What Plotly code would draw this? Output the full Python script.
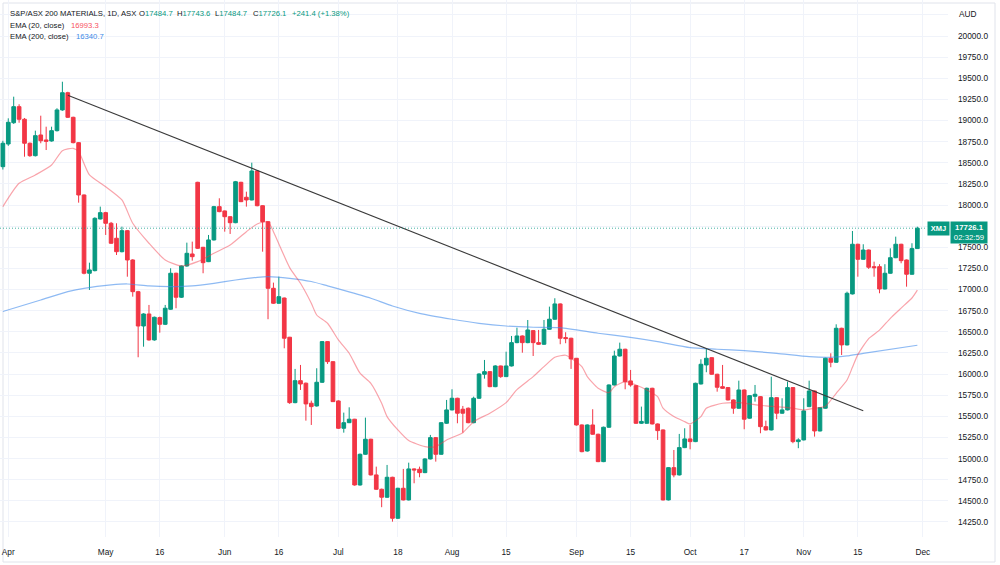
import pandas as pd
import plotly.graph_objects as go

# ---------------- data ----------------
holidays = ["2022-04-15", "2022-04-18", "2022-04-25", "2022-06-13", "2022-09-22"]
trade_days = pd.bdate_range("2022-03-31", "2022-11-30", freq="C", holidays=holidays)
dates = [d.strftime("%Y-%m-%d") for d in trade_days]
future_days = ["2022-12-01", "2022-12-02", "2022-12-05", "2022-12-06", "2022-12-07", "2022-12-08"]

open_ = [18454, 18722, 18974, 19164, 19015, 18731, 18584, 18829, 18770, 18758,
         18880, 19125, 19329, 19038, 18738, 18119, 17193, 17224, 17835, 17910,
         17784, 17607, 17448, 17697, 17350, 16975, 16569, 16711, 16404, 16668,
         16589, 16767, 17193, 16909, 17279, 17421, 18269, 17500, 17330, 17587,
         17981, 17930, 17862, 17791, 18269, 18092, 18060, 18403, 17992, 17803,
         17015, 16838, 16900, 16436, 15662, 15922, 15892, 15655, 15623, 15903,
         16384, 16147, 15682, 15359, 15425, 15466, 14688, 15051, 15229, 14807,
         14637, 14543, 14779, 14294, 14649, 14511, 14878, 14874, 14834, 14996,
         15248, 15051, 15418, 15576, 15714, 15584, 15596, 15425, 15714, 15998,
         16029, 15851, 16096, 15970, 16096, 16372, 16451, 16372, 16514, 16372,
         16353, 16530, 16649, 16830, 16432, 16424, 16187, 15398, 15090, 15398,
         15288, 14964, 15371, 15871, 16214, 16294, 15919, 15863, 15418, 15418,
         15832, 15410, 15339, 14511, 14893, 14807, 15130, 15233, 15201, 15883,
         16108, 16194, 15998, 15851, 15840, 15694, 15596, 15812, 15478, 15737,
         15733, 15378, 15339, 15721, 15537, 15576, 15840, 15201, 15221, 15615,
         15800, 15327, 15596, 16187, 16140, 16542, 16345, 16948, 17536, 17358,
         17468, 17271, 17271, 17007, 17193, 17377, 17536, 17350, 17181, 17484.7]
high_ = [18760, 19026, 19282, 19192, 19030, 18740, 18880, 19057, 18927, 18927,
         19145, 19459, 19340, 19045, 18745, 18125, 17318, 17855, 17981, 17920,
         17800, 17784, 17744, 17705, 17360, 16985, 16720, 16818, 16680, 16680,
         16818, 17252, 17200, 17285, 17555, 17567, 18275, 17505, 17646, 17990,
         18080, 17935, 17868, 18285, 18275, 18158, 18501, 18410, 17998, 17808,
         17082, 17153, 16905, 16440, 16061, 16108, 15900, 15686, 16069, 16390,
         16390, 16150, 15690, 15544, 15607, 15470, 15060, 15485, 15235, 14905,
         14645, 14925, 14785, 14655, 14878, 14952, 14885, 14905, 15005, 15280,
         15255, 15432, 15694, 15820, 15720, 15623, 15605, 15733, 16010, 16167,
         16035, 16105, 16100, 16265, 16451, 16549, 16458, 16640, 16520, 16522,
         16640, 16798, 16897, 16836, 16495, 16430, 16190, 15405, 15405, 15584,
         15295, 15378, 15878, 16277, 16372, 16300, 16049, 15870, 15615, 15840,
         15838, 15416, 15345, 14900, 15102, 15292, 15359, 15398, 15898, 16175,
         16305, 16200, 16004, 16108, 15846, 15700, 15922, 15818, 15752, 15871,
         15740, 15449, 15969, 15727, 15714, 15911, 15846, 15240, 15714, 15922,
         15806, 15610, 16194, 16246, 16589, 16548, 16975, 17693, 17542, 17536,
         17474, 17330, 17300, 17300, 17488, 17626, 17542, 17356, 17548, 17743.6]
low_ = [18420, 18700, 18960, 18974, 18572, 18570, 18575, 18731, 18651, 18750,
        18870, 19115, 19030, 18730, 18028, 17180, 16995, 17215, 17830, 17646,
        17540, 17409, 17440, 17152, 16916, 16199, 16324, 16395, 16395, 16490,
        16580, 16760, 16779, 16900, 17270, 17342, 17480, 17193, 17325, 17580,
        17915, 17685, 17658, 17785, 18035, 17981, 18055, 17985, 17448, 16649,
        16830, 16832, 16305, 15647, 15655, 15812, 15449, 15398, 15615, 15895,
        16120, 15670, 15350, 15307, 15420, 14680, 14680, 15045, 14800, 14630,
        14425, 14535, 14254, 14285, 14505, 14505, 14708, 14779, 14828, 14990,
        14964, 15045, 15410, 15570, 15418, 15307, 15418, 15418, 15707, 15946,
        15845, 15845, 15955, 15965, 16090, 16365, 16253, 16365, 16214, 16345,
        16345, 16525, 16643, 16353, 16365, 16061, 15390, 15075, 15082, 15282,
        14958, 14958, 15365, 15865, 16208, 15820, 15851, 15412, 15410, 15412,
        15404, 15221, 14505, 14505, 14779, 14800, 15124, 15110, 15195, 15877,
        16022, 15992, 15792, 15826, 15688, 15530, 15590, 15347, 15472, 15674,
        15300, 15333, 15333, 15466, 15531, 15570, 15182, 15123, 15215, 15609,
        15260, 15321, 15590, 16081, 16134, 16226, 16339, 16942, 17152, 17352,
        17244, 17152, 16956, 17001, 17187, 17371, 17311, 17034, 17175, 17484.7]
close_ = [18731, 18979, 19164, 19015, 18731, 18584, 18821, 18761, 18754, 18880,
          19125, 19329, 19038, 18738, 18119, 17193, 17232, 17843, 17910, 17784,
          17548, 17448, 17697, 17350, 16975, 16569, 16711, 16404, 16672, 16589,
          16779, 17193, 16909, 17279, 17429, 17389, 17488, 17318, 17587, 17981,
          17922, 17862, 17791, 18276, 18040, 18060, 18403, 17992, 17803, 17015,
          16838, 16916, 16424, 15662, 15922, 15883, 15647, 15615, 15903, 16384,
          16147, 15674, 15359, 15425, 15466, 14688, 15051, 15229, 14807, 14637,
          14543, 14779, 14294, 14649, 14511, 14878, 14866, 14834, 14996, 15248,
          15051, 15425, 15576, 15714, 15537, 15537, 15425, 15714, 16001, 16029,
          15851, 16096, 15970, 16096, 16372, 16451, 16372, 16522, 16372, 16353,
          16530, 16649, 16830, 16424, 16420, 16179, 15398, 15082, 15398, 15288,
          14964, 15371, 15871, 16214, 16294, 15910, 15871, 15418, 15440, 15832,
          15410, 15331, 14511, 14893, 14807, 15130, 15233, 15201, 15891, 16116,
          16187, 15998, 15844, 15832, 15694, 15596, 15812, 15466, 15745, 15761,
          15378, 15339, 15721, 15537, 15576, 15840, 15201, 15221, 15564, 15800,
          15327, 15603, 16187, 16140, 16542, 16345, 16956, 17536, 17358, 17468,
          17264, 17259, 17007, 17193, 17377, 17536, 17342, 17181, 17484.7, 17726.1]

ema20_dates = ["2022-03-31", "2022-04-05", "2022-04-08", "2022-04-13", "2022-04-19", "2022-04-21",
               "2022-04-22", "2022-04-27", "2022-05-02", "2022-05-05", "2022-05-09", "2022-05-12",
               "2022-05-17", "2022-05-20", "2022-05-25", "2022-05-30", "2022-06-02", "2022-06-07",
               "2022-06-09", "2022-06-14", "2022-06-15", "2022-06-20", "2022-06-22", "2022-06-24",
               "2022-06-27", "2022-06-29", "2022-07-01", "2022-07-05", "2022-07-07", "2022-07-11",
               "2022-07-13", "2022-07-14", "2022-07-18", "2022-07-20", "2022-07-25", "2022-07-27",
               "2022-07-29", "2022-08-03", "2022-08-05", "2022-08-10", "2022-08-15", "2022-08-17",
               "2022-08-22", "2022-08-24", "2022-08-26", "2022-08-30", "2022-08-31", "2022-09-02",
               "2022-09-05", "2022-09-07", "2022-09-09", "2022-09-12", "2022-09-14", "2022-09-16",
               "2022-09-20", "2022-09-23", "2022-09-26", "2022-09-28", "2022-09-30", "2022-10-03",
               "2022-10-05", "2022-10-06", "2022-10-11", "2022-10-14", "2022-10-18", "2022-10-21",
               "2022-10-25", "2022-10-28", "2022-11-01", "2022-11-03", "2022-11-07", "2022-11-09",
               "2022-11-11", "2022-11-14", "2022-11-15", "2022-11-17", "2022-11-21", "2022-11-23",
               "2022-11-25", "2022-11-29", "2022-11-30"]
ema20_vals = [17981, 18257, 18356, 18474, 18643, 18671,
              18631, 18356, 18217, 18060, 17784, 17548,
              17350, 17279, 17330, 17429, 17527, 17685,
              17776, 17803, 17685, 17260, 17074, 16838,
              16699, 16601, 16404, 16246, 16010, 15891,
              15655, 15497, 15339, 15213, 15142, 15142,
              15221, 15307, 15437, 15537, 15662, 15816,
              15970, 16088, 16199, 16223, 16187, 16088,
              15970, 15832, 15780, 15851, 15910, 15871,
              15812, 15733, 15596, 15497, 15437, 15410,
              15497, 15596, 15655, 15662, 15647, 15623,
              15615, 15596, 15576, 15596, 15620, 15773,
              15930, 16080, 16230, 16420, 16520, 16660,
              16781, 16900, 16993.3]

ema200_dates = ["2022-03-31", "2022-04-11", "2022-04-20", "2022-04-26", "2022-05-03", "2022-05-06",
                "2022-05-12", "2022-05-18", "2022-05-24", "2022-05-30", "2022-06-03", "2022-06-09",
                "2022-06-14", "2022-06-20", "2022-06-24", "2022-06-29", "2022-07-04", "2022-07-11",
                "2022-07-15", "2022-07-22", "2022-08-01", "2022-08-08", "2022-08-15", "2022-08-22",
                "2022-08-29", "2022-09-07", "2022-09-14", "2022-09-23", "2022-10-03", "2022-10-10",
                "2022-10-17", "2022-10-25", "2022-11-02", "2022-11-08", "2022-11-11", "2022-11-16",
                "2022-11-30"]
ema200_vals = [16740, 16877, 16975, 17015, 17055, 17066,
               17043, 17035, 17043, 17074, 17113, 17145,
               17153, 17133, 17095, 17043, 16990, 16897,
               16806, 16719, 16649, 16601, 16569, 16554,
               16549, 16483, 16443, 16384, 16313, 16294,
               16277, 16246, 16206, 16199, 16215, 16246,
               16340.7]

trend_dates = ["2022-04-20", "2022-11-16"]
trend_vals = [19300, 15565]

tick_dates = ["2022-04-01", "2022-05-02", "2022-05-16", "2022-06-01", "2022-06-16", "2022-07-01",
              "2022-07-18", "2022-08-01", "2022-08-15", "2022-09-01", "2022-09-15", "2022-10-03",
              "2022-10-17", "2022-11-01", "2022-11-15", "2022-12-01"]
tick_labels = ["Apr", "May", "16", "Jun", "16", "Jul", "18", "Aug", "15", "Sep", "15", "Oct",
               "17", "Nov", "15", "Dec"]

# 17750 label is hidden behind the last-price box in the original; 20250 sits under "AUD"
price_ticks = [14250, 14500, 14750, 15000, 15250, 15500, 15750, 16000, 16250, 16500, 16750,
               17000, 17250, 17500, 17750, 18000, 18250, 18500, 18750, 19000, 19250, 19500,
               19750, 20000, 20250]
price_labels = ["14250.0", "14500.0", "14750.0", "15000.0", "15250.0", "15500.0", "15750.0",
                "16000.0", "16250.0", "16500.0", "16750.0", "17000.0", "17250.0", "17500.0",
                "", "18000.0", "18250.0", "18500.0", "18750.0", "19000.0", "19250.0",
                "19500.0", "19750.0", "20000.0", ""]

last_price = 17726.1

# ---------------- styling ----------------
GREEN = "#089981"
RED = "#f23645"
TXT = "#131722"
FONT = "Liberation Sans"
W, H = 1000, 565
ML, MR, MT, MB = 0, 52, 0, 28
PW, PH = W - ML - MR, H - MT - MB


def xp(px):
    return (px - ML) / PW


def yp(py):
    return 1 - (py - MT) / PH


fig = go.Figure()
fig.add_trace(go.Candlestick(
    x=dates, open=open_, high=high_, low=low_, close=close_,
    increasing=dict(line=dict(color=GREEN, width=1), fillcolor=GREEN),
    decreasing=dict(line=dict(color=RED, width=1), fillcolor=RED),
    whiskerwidth=0, showlegend=False, hoverinfo="skip"))
fig.add_trace(go.Scatter(x=ema200_dates, y=ema200_vals, mode="lines",
                         line=dict(color="rgba(66,140,235,0.6)", width=1.2, shape="spline", smoothing=0.6),
                         showlegend=False, hoverinfo="skip"))
fig.add_trace(go.Scatter(x=ema20_dates, y=ema20_vals, mode="lines",
                         line=dict(color="rgba(242,54,69,0.45)", width=1.2, shape="spline", smoothing=0.6),
                         showlegend=False, hoverinfo="skip"))
fig.add_trace(go.Scatter(x=trend_dates, y=trend_vals, mode="lines",
                         line=dict(color="#3a3a3a", width=1.1),
                         showlegend=False, hoverinfo="skip"))

fig.add_shape(type="line", xref="paper", yref="y", x0=0, x1=xp(927), y0=last_price, y1=last_price,
              line=dict(color="rgba(8,153,129,0.75)", width=1, dash="1px,2px"))
# frame
fig.add_shape(type="rect", xref="paper", yref="paper", x0=xp(3), x1=xp(995), y0=yp(562), y1=yp(3),
              line=dict(color="#e0e3eb", width=1), layer="below")

ann = []
TS = 7.7


def txt(x, y, s, color=TXT, size=TS, anchor="left"):
    ann.append(dict(x=xp(x), y=yp(y), xref="paper", yref="paper", text=s, showarrow=False,
                    xanchor=anchor, yanchor="middle", font=dict(family=FONT, size=size, color=color)))


txt(8, 13, "S&P/ASX 200 MATERIALS, 1D, ASX")
txt(137, 13, "O<span style='color:%s'>17484.7</span>" % GREEN)
txt(175, 13, "H<span style='color:%s'>17743.6</span>" % GREEN)
txt(213, 13, "L<span style='color:%s'>17484.7</span>" % GREEN)
txt(251, 13, "C<span style='color:%s'>17726.1</span>" % GREEN)
txt(290, 13, "+241.4 (+1.38%)", color=GREEN)
txt(8, 25, "EMA (20, close)")
txt(69, 25, "16993.3", color="#f7525f")
txt(8, 37, "EMA (200, close)")
txt(74, 37, "16340.7", color="#3d8be8")
txt(957, 14, "AUD", size=8.3)

# price labels
ann.append(dict(x=xp(938), y=yp(228.5), xref="paper", yref="paper", text="<b>XMJ</b>", showarrow=False,
                xanchor="center", yanchor="middle", bgcolor=GREEN, borderpad=1, width=19, height=11,
                font=dict(family=FONT, size=7.5, color="white")))
ann.append(dict(x=xp(969), y=yp(233), xref="paper", yref="paper", text="<b>17726.1</b><br>02:32:59",
                showarrow=False, xanchor="center", yanchor="middle", bgcolor=GREEN, borderpad=0,
                width=36, height=21, font=dict(family=FONT, size=7.8, color="white")))

fig.update_layout(
    width=W, height=H, margin=dict(l=ML, r=MR, t=MT, b=MB),
    paper_bgcolor="white", plot_bgcolor="white",
    boxgap=0.15, boxgroupgap=0.2,
    annotations=ann,
    xaxis=dict(type="category", categoryorder="array", categoryarray=dates + future_days,
               range=[-0.53, 174.66], rangeslider=dict(visible=False),
               tickmode="array", tickvals=tick_dates, ticktext=tick_labels,
               showgrid=True, gridcolor="#f0f3fa", gridwidth=1, zeroline=False,
               ticks="", showline=False, ticklabelstandoff=9,
               tickfont=dict(family=FONT, size=8.3, color=TXT)),
    yaxis=dict(side="right", range=[14072.4, 20425.9], tickmode="array",
               tickvals=price_ticks, ticktext=price_labels,
               showgrid=True, gridcolor="#f0f3fa", gridwidth=1, zeroline=False,
               ticks="", showline=False, ticklabelstandoff=9,
               tickfont=dict(family=FONT, size=8.3, color=TXT)),
)

fig.write_html("out.html")
